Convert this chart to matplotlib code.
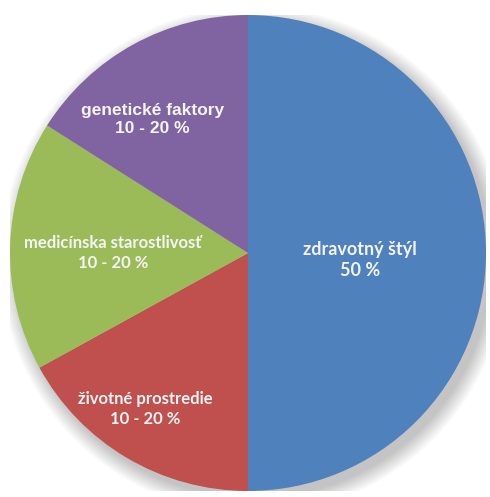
import numpy as np
import matplotlib.pyplot as plt
from matplotlib.patches import Circle

# slices clockwise from the top
names = ["zdravotný štýl", "životné prostredie", "medicínska starostlivosť", "genetické faktory"]
shares = [50, 17, 17, 16]
share_text = ["50 %", "10 - 20 %", "10 - 20 %", "10 - 20 %"]
colors = ["#4F81BD", "#C0504D", "#9BBB59", "#8064A2"]

# label block centres (pie units) and font per label
label_pos = [(0.47, -0.03), (-0.43, -0.655), (-0.567, 0.0), (-0.40, 0.56)]
label_font = ["Lato", "Lato", "Lato", "Liberation Sans"]
label_size = [13, 12, 12, 12.5]

fig = plt.figure(figsize=(4.90, 4.97), dpi=100)
fig.patch.set_facecolor("white")
r_px = 238
ax = fig.add_axes([(248 - r_px) / 490, (497 - 253 - r_px) / 497, 2 * r_px / 490, 2 * r_px / 497])

# soft drop shadow
for k in range(12):
    ax.add_patch(Circle((0.025, -0.03), 1.0 + 0.006 * k, color="black", alpha=0.02, lw=0, zorder=0))

ax.pie(shares, colors=colors, startangle=90, counterclock=False, radius=1,
       wedgeprops=dict(linewidth=0), frame=True)
ax.set_xlim(-1, 1)
ax.set_ylim(-1, 1)
ax.set_aspect("auto")
ax.axis("off")

for i in range(len(names)):
    x, y = label_pos[i]
    ax.text(x, y, names[i] + "\n" + share_text[i], ha="center", va="center",
            color="#F4F4F4", fontweight="bold", fontsize=label_size[i],
            family=label_font[i], linespacing=1.25, zorder=5)

plt.savefig("out.png", dpi=100)
